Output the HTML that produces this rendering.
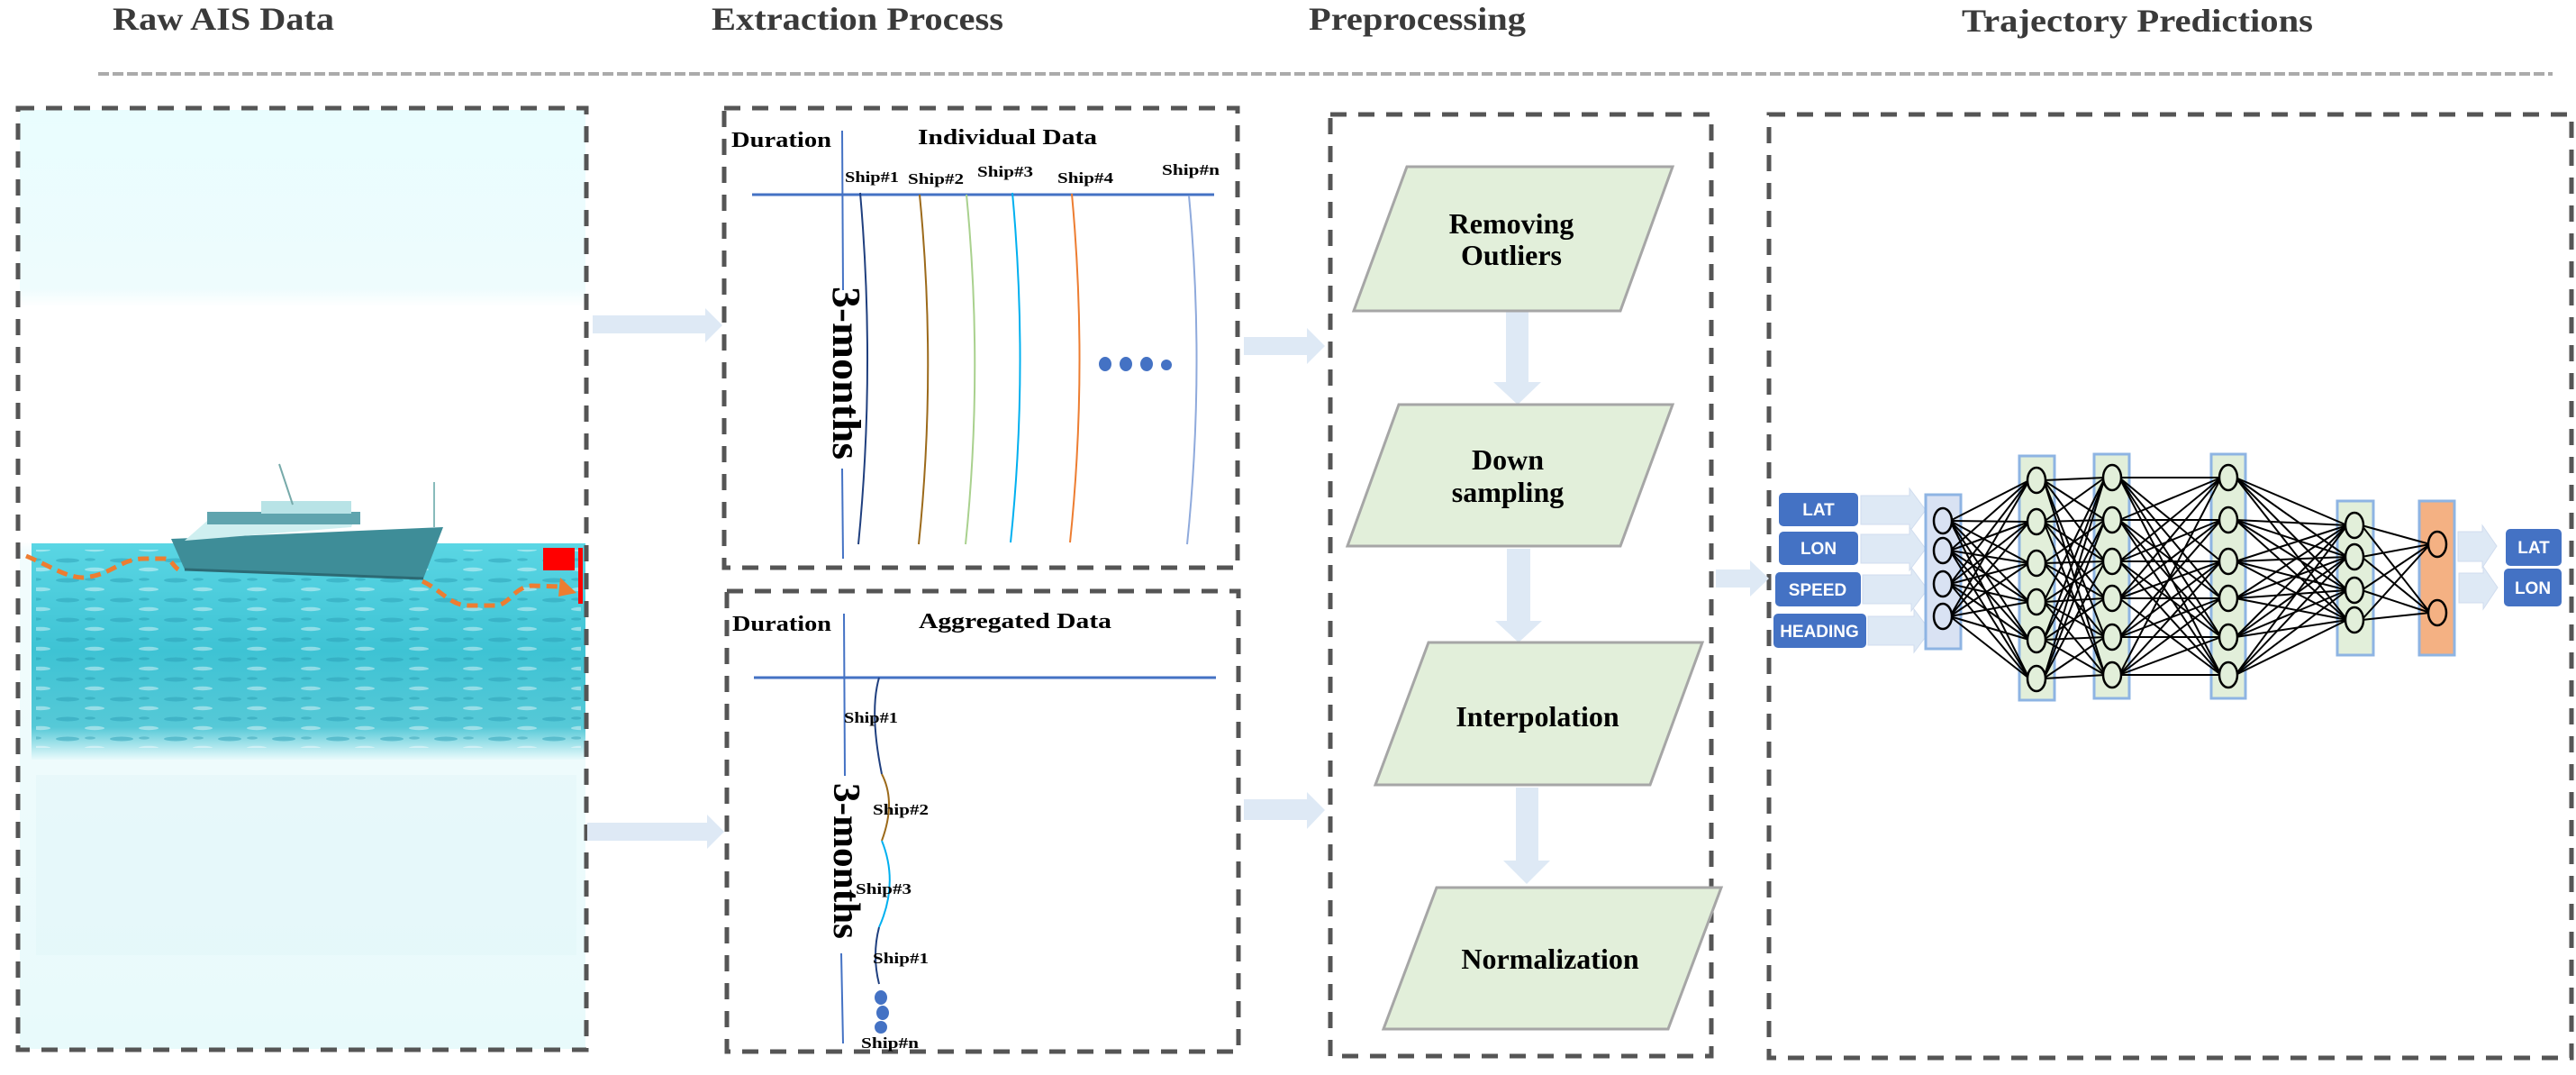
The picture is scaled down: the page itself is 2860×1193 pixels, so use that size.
<!DOCTYPE html>
<html><head><meta charset="utf-8"><style>
html,body{margin:0;padding:0;background:#fff;}
svg{display:block;}
.t{font-family:"Liberation Serif",serif;font-weight:bold;}
.s{font-family:"Liberation Sans",sans-serif;font-weight:bold;}
</style></head><body>
<svg width="2860" height="1193" viewBox="0 0 2860 1193" xmlns="http://www.w3.org/2000/svg">
<defs>
<linearGradient id="sky" x1="0" y1="0" x2="0" y2="1">
<stop offset="0" stop-color="#E9FDFE"/><stop offset="0.19" stop-color="#EEFCFD"/><stop offset="0.21" stop-color="#FFFFFF"/><stop offset="0.46" stop-color="#FFFFFF"/><stop offset="0.47" stop-color="#F2FCFD"/><stop offset="1" stop-color="#E8FAFB"/>
</linearGradient>
<linearGradient id="sea" x1="0" y1="0" x2="0" y2="1">
<stop offset="0" stop-color="#5AD6E4"/><stop offset="0.5" stop-color="#3EC3D4"/><stop offset="0.85" stop-color="#56C9D7"/><stop offset="1" stop-color="#E8FAFB"/>
</linearGradient>
<pattern id="waves" width="60" height="22" patternUnits="userSpaceOnUse">
<ellipse cx="15" cy="6" rx="13" ry="2.5" fill="#2C9FB6" opacity="0.55"/>
<ellipse cx="45" cy="16" rx="11" ry="2.2" fill="#FFFFFF" opacity="0.45"/>
<ellipse cx="40" cy="5" rx="6" ry="1.6" fill="#1F8EA5" opacity="0.4"/>
</pattern>
</defs>

<!-- Titles -->
<text class="t" x="125" y="33" font-size="36" textLength="246" lengthAdjust="spacingAndGlyphs" fill="#3a3a3a">Raw AIS Data</text>
<text class="t" x="790" y="33" font-size="36" textLength="324" lengthAdjust="spacingAndGlyphs" fill="#3a3a3a">Extraction Process</text>
<text class="t" x="1453" y="33" font-size="36" textLength="241" lengthAdjust="spacingAndGlyphs" fill="#3a3a3a">Preprocessing</text>
<text class="t" x="2178" y="35" font-size="36" textLength="390" lengthAdjust="spacingAndGlyphs" fill="#3a3a3a">Trajectory Predictions</text>
<line x1="109" y1="82" x2="2834" y2="82" stroke="#ABABAB" stroke-width="4" stroke-dasharray="12 4"/>

<!-- Raw AIS image -->
<rect x="22" y="122" width="628" height="1042" fill="url(#sky)"/>
<rect x="35" y="603" width="615" height="240" fill="url(#sea)"/>
<rect x="40" y="610" width="605" height="220" fill="url(#waves)" opacity="0.9"/>
<rect x="40" y="860" width="600" height="200" fill="#DDF3F5" opacity="0.35"/>
<!-- ship -->
<polygon points="190,598 492,585 470,642 205,632" fill="#3E8D98"/>
<polygon points="205,600 390,585 396,568 230,578" fill="#CFEFF0"/>
<rect x="230" y="568" width="170" height="14" fill="#5FA4AE"/>
<rect x="290" y="556" width="100" height="14" fill="#B8E3E6"/>
<line x1="310" y1="515" x2="325" y2="560" stroke="#7aa" stroke-width="2"/>
<line x1="482" y1="535" x2="482" y2="585" stroke="#8bb" stroke-width="2"/>
<polyline points="205,632 470,642" stroke="#2c6a74" stroke-width="3" fill="none"/>
<path d="M29,617 C60,630 80,645 100,640 C125,636 135,620 160,620 L183,620 C190,620 192,628 198,632" stroke="#ED7D31" stroke-width="5" fill="none" stroke-dasharray="12 7"/>
<path d="M469,645 C490,655 500,672 520,672 L550,672 C565,672 570,652 590,650 L625,651" stroke="#ED7D31" stroke-width="5" fill="none" stroke-dasharray="12 7"/>
<polygon points="622,641 640,658 620,662" fill="#ED7D31"/>
<rect x="603" y="608" width="35" height="25" fill="#FF0000"/>
<rect x="642" y="608" width="5" height="62" fill="#FF0000"/>

<!-- Dashed boxes -->
<g fill="none" stroke="#555" stroke-width="5" stroke-dasharray="18 13">
<rect x="20" y="120" width="631" height="1045"/>
<rect x="804" y="120" width="570" height="510"/>
<rect x="807" y="656" width="568" height="511"/>
<rect x="1477" y="127" width="423" height="1045"/>
<rect x="1964" y="127" width="891" height="1047"/>
</g>

<!-- Block arrows -->
<g fill="#DEE9F5">
<polygon points="658,350 783,350 783,342 802,361 783,380 783,370 658,370"/>
<polygon points="652,913 785,913 785,904 804,923 785,942 785,933 652,933"/>
<polygon points="1381,374 1451,374 1451,364 1471,384 1451,404 1451,394 1381,394"/>
<polygon points="1381,887 1451,887 1451,879 1471,899 1451,920 1451,910 1381,910"/>
<polygon points="1905,632 1943,632 1943,622 1964,642 1943,662 1943,652 1905,652"/>
<polygon points="1672,343 1697,343 1697,424 1711,424 1685,449 1658,424 1672,424"/>
<polygon points="1673,609 1699,609 1699,689 1712,689 1686,713 1660,689 1673,689"/>
<polygon points="1683,874 1708,874 1708,955 1721,955 1695,981 1669,955 1683,955"/>
</g>

<!-- Individual data -->
<text class="t" x="812" y="163" font-size="24" textLength="111" lengthAdjust="spacingAndGlyphs">Duration</text>
<text class="t" x="1019" y="160" font-size="24" textLength="199" lengthAdjust="spacingAndGlyphs">Individual  Data</text>
<line x1="935" y1="145" x2="936" y2="322" stroke="#4472C4" stroke-width="2"/>
<line x1="935" y1="520" x2="936" y2="620" stroke="#4472C4" stroke-width="2"/>
<text class="t" font-size="44" transform="translate(925,318) rotate(90)" textLength="192" lengthAdjust="spacingAndGlyphs">3-months</text>
<line x1="835" y1="216" x2="1348" y2="216" stroke="#4472C4" stroke-width="3"/>
<g class="t" font-size="17">
<text x="938" y="202" textLength="60" lengthAdjust="spacingAndGlyphs">Ship#1</text>
<text x="1008" y="204" textLength="62" lengthAdjust="spacingAndGlyphs">Ship#2</text>
<text x="1085" y="196" textLength="62" lengthAdjust="spacingAndGlyphs">Ship#3</text>
<text x="1174" y="203" textLength="62" lengthAdjust="spacingAndGlyphs">Ship#4</text>
<text x="1290" y="194" textLength="64" lengthAdjust="spacingAndGlyphs">Ship#n</text>
</g>
<g fill="none" stroke-width="2">
<path d="M955,214 Q972,410 953,604" stroke="#1F3F7F"/>
<path d="M1021,216 Q1040,410 1020,604" stroke="#9C6A1A"/>
<path d="M1073,216 Q1092,410 1072,604" stroke="#A9D18E"/>
<path d="M1124,214 Q1142,410 1122,602" stroke="#00B0F0"/>
<path d="M1190,215 Q1208,410 1188,602" stroke="#ED7D31"/>
<path d="M1320,217 Q1338,410 1318,604" stroke="#8FAADC"/>
</g>
<g fill="#4472C4">
<ellipse cx="1227" cy="404" rx="7" ry="8"/><ellipse cx="1250" cy="404" rx="7" ry="8"/><ellipse cx="1273" cy="404" rx="7" ry="8"/><ellipse cx="1295" cy="405" rx="6" ry="6"/>
</g>

<!-- Aggregated data -->
<text class="t" x="813" y="700" font-size="24" textLength="110" lengthAdjust="spacingAndGlyphs">Duration</text>
<text class="t" x="1020" y="697" font-size="24" textLength="214" lengthAdjust="spacingAndGlyphs">Aggregated Data</text>
<line x1="937" y1="681" x2="938" y2="861" stroke="#4472C4" stroke-width="2"/>
<line x1="934" y1="1058" x2="936" y2="1158" stroke="#4472C4" stroke-width="2"/>
<text class="t" font-size="42" transform="translate(926,869) rotate(90)" textLength="173" lengthAdjust="spacingAndGlyphs">3-months</text>
<line x1="837" y1="752" x2="1350" y2="752" stroke="#4472C4" stroke-width="3"/>
<g fill="none" stroke-width="2">
<path d="M976,752 Q965,790 979,859" stroke="#1F3F7F"/>
<path d="M979,859 Q995,890 979,933" stroke="#9C6A1A"/>
<path d="M979,933 Q998,980 976,1029" stroke="#00B0F0"/>
<path d="M976,1029 Q968,1060 976,1092" stroke="#1F3F7F"/>
</g>
<g class="t" font-size="17">
<text x="937" y="802" textLength="60" lengthAdjust="spacingAndGlyphs">Ship#1</text>
<text x="969" y="904" textLength="62" lengthAdjust="spacingAndGlyphs">Ship#2</text>
<text x="950" y="992" textLength="62" lengthAdjust="spacingAndGlyphs">Ship#3</text>
<text x="969" y="1069" textLength="62" lengthAdjust="spacingAndGlyphs">Ship#1</text>
<text x="956" y="1163" textLength="64" lengthAdjust="spacingAndGlyphs">Ship#n</text>
</g>
<g fill="#4472C4">
<ellipse cx="978" cy="1107" rx="7" ry="8"/><ellipse cx="980" cy="1124" rx="7" ry="8"/><ellipse cx="978" cy="1140" rx="7" ry="7"/>
</g>

<!-- Preprocessing parallelograms -->
<g fill="#E2EFDA" stroke="#A6A6A6" stroke-width="3">
<polygon points="1562,185 1857,185 1799,345 1503,345"/>
<polygon points="1553,449 1857,449 1799,606 1496,606"/>
<polygon points="1586,713 1890,713 1832,871 1527,871"/>
<polygon points="1595,985 1911,985 1852,1142 1536,1142"/>
</g>
<g class="t" font-size="32" text-anchor="middle">
<text x="1678" y="259">Removing</text>
<text x="1678" y="294">Outliers</text>
<text x="1674" y="521">Down</text>
<text x="1674" y="557">sampling</text>
<text x="1707" y="806">Interpolation</text>
<text x="1721" y="1075">Normalization</text>
</g>

<!-- NN -->
<g fill="#4472C4">
<rect x="1975" y="547" width="88" height="37" rx="5"/>
<rect x="1975" y="590" width="88" height="37" rx="5"/>
<rect x="1971" y="635" width="95" height="38" rx="5"/>
<rect x="1969" y="681" width="103" height="38" rx="5"/>
<rect x="2782" y="587" width="62" height="41" rx="5"/>
<rect x="2780" y="631" width="64" height="42" rx="5"/>
</g>
<g class="s" font-size="19" fill="#fff" text-anchor="middle">
<text x="2019" y="572">LAT</text>
<text x="2019" y="615">LON</text>
<text x="2018" y="661">SPEED</text>
<text x="2020" y="707">HEADING</text>
<text x="2813" y="614">LAT</text>
<text x="2812" y="659">LON</text>
</g>
<g fill="#DEE9F5" stroke="#D0DCEE" stroke-width="1">
<polygon points="2066,550 2120,550 2120,542 2138,566 2120,590 2120,582 2066,582"/>
<polygon points="2066,593 2120,593 2120,585 2138,609 2120,633 2120,625 2066,625"/>
<polygon points="2068,638 2122,638 2122,630 2140,654 2122,678 2122,670 2068,670"/>
<polygon points="2074,684 2125,684 2125,676 2143,700 2125,724 2125,716 2074,716"/>
<polygon points="2729,590 2756,590 2756,583 2772,606 2756,630 2756,623 2729,623"/>
<polygon points="2730,636 2757,636 2757,629 2773,652 2757,676 2757,669 2730,669"/>
</g>
<g stroke="#8EB4E3" stroke-width="3">
<rect x="2138" y="549" width="39" height="171" fill="#D9E2F3"/>
<rect x="2242" y="506" width="39" height="271" fill="#E2EFDA"/>
<rect x="2325" y="504" width="39" height="271" fill="#E2EFDA"/>
<rect x="2455" y="504" width="38" height="271" fill="#E2EFDA"/>
<rect x="2595" y="556" width="40" height="171" fill="#E2EFDA"/>
<rect x="2686" y="556" width="39" height="171" fill="#F4B183"/>
</g>
<g id="edges" stroke="#000" stroke-width="2"></g>
<g id="nodes" stroke="#000" stroke-width="2.5"></g>
</svg>
<script>
(function(){
var L=[
 {x:2157,ys:[578,611,648,684],f:"#D9E2F3"},
 {x:2261,ys:[533,579,625,668,710,753],f:"#E2EFDA"},
 {x:2345,ys:[530,577,623,664,707,749],f:"#E2EFDA"},
 {x:2474,ys:[530,577,623,664,707,749],f:"#E2EFDA"},
 {x:2614,ys:[583,618,655,688],f:"#E2EFDA"},
 {x:2706,ys:[604,680],f:"#F4B183"}
];
var ns="http://www.w3.org/2000/svg";
var E=document.getElementById("edges"),N=document.getElementById("nodes");
var k=0;
for(var i=0;i<L.length-1;i++){
 var a=L[i],b=L[i+1];
 for(var p=0;p<a.ys.length;p++)for(var q=0;q<b.ys.length;q++){
  k++;
  if((i==1||i==2) && (p*7+q*3+i)%5==0) continue;
  var l=document.createElementNS(ns,"line");
  l.setAttribute("x1",a.x+8);l.setAttribute("y1",a.ys[p]);
  l.setAttribute("x2",b.x-8);l.setAttribute("y2",b.ys[q]);
  E.appendChild(l);
 }
}
L.forEach(function(c){c.ys.forEach(function(y){
 var e=document.createElementNS(ns,"ellipse");
 e.setAttribute("cx",c.x);e.setAttribute("cy",y);e.setAttribute("rx",10);e.setAttribute("ry",14);e.setAttribute("fill",c.f);
 N.appendChild(e);
});});
})();
</script>
</body></html>
